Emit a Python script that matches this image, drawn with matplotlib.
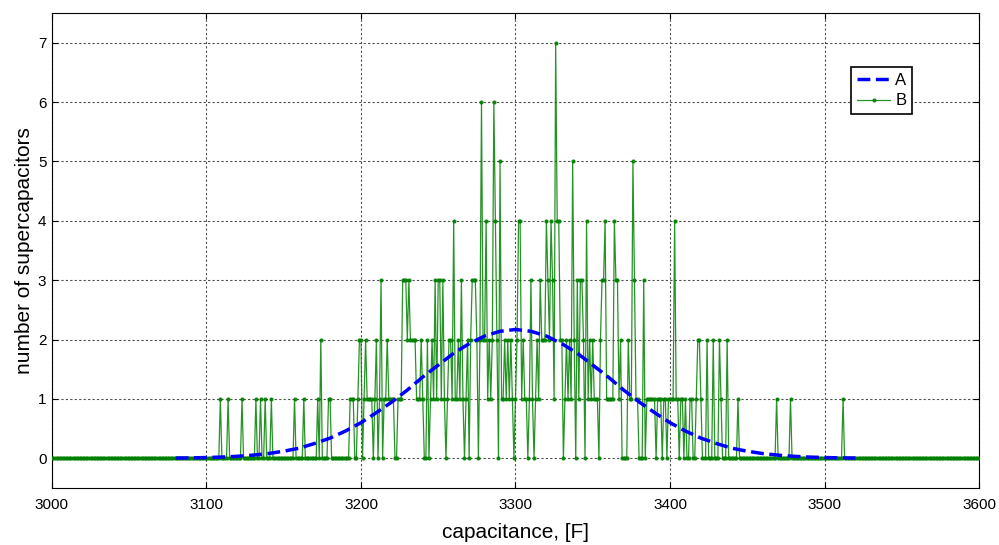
import numpy as np
import matplotlib
matplotlib.use('Agg')
import matplotlib.pyplot as plt

plt.rcParams['font.family'] = ['Liberation Sans', 'DejaVu Sans']

# measured capacitance values [F] that occur, and how many units have them
cap = [3109, 3114, 3123, 3132, 3135, 3138, 3142, 3157, 3163, 3172, 3174, 3179, 3180,
       3193, 3194, 3195, 3198, 3199, 3200, 3202, 3203, 3204, 3205, 3206, 3207, 3209,
       3210, 3212, 3213, 3215, 3216, 3217, 3218, 3219, 3220, 3221, 3224, 3225, 3226,
       3227, 3228, 3229, 3230, 3231, 3232, 3233, 3234, 3235, 3236, 3237, 3238, 3239,
       3240, 3243, 3245, 3246, 3247, 3248, 3249, 3250, 3251, 3252, 3253, 3254, 3256,
       3257, 3258, 3259, 3260, 3261, 3262, 3263, 3264, 3265, 3266, 3268, 3269, 3271,
       3272, 3273, 3274, 3275, 3277, 3278, 3279, 3280, 3281, 3282, 3283, 3284, 3285,
       3286, 3287, 3288, 3290, 3291, 3292, 3293, 3294, 3295, 3296, 3297, 3298, 3300,
       3301, 3302, 3303, 3304, 3305, 3306, 3307, 3309, 3310, 3311, 3313, 3314, 3315,
       3316, 3317, 3318, 3319, 3320, 3321, 3322, 3323, 3324, 3325, 3326, 3327, 3328,
       3329, 3330, 3332, 3333, 3334, 3335, 3336, 3337, 3338, 3340, 3341, 3342, 3343,
       3344, 3346, 3347, 3348, 3349, 3350, 3351, 3352, 3353, 3355, 3356, 3357, 3358,
       3359, 3360, 3361, 3362, 3363, 3364, 3365, 3366, 3367, 3368, 3373, 3374, 3375,
       3376, 3377, 3378, 3379, 3383, 3385, 3386, 3387, 3388, 3389, 3390, 3392, 3393,
       3394, 3396, 3397, 3399, 3400, 3401, 3402, 3403, 3404, 3405, 3407, 3408, 3410,
       3413, 3414, 3417, 3418, 3419, 3420, 3424, 3428, 3432, 3433, 3437, 3444, 3469,
       3478, 3512]
cnt = [1, 1, 1, 1, 1, 1, 1, 1, 1, 1, 2, 1, 1,
       1, 1, 1, 1, 2, 2, 1, 2, 1, 1, 1, 1, 1,
       2, 1, 3, 1, 1, 2, 1, 1, 1, 1, 1, 1, 1,
       3, 3, 3, 2, 3, 2, 2, 2, 2, 1, 1, 1, 2,
       1, 2, 1, 2, 1, 3, 1, 3, 3, 1, 3, 1, 1,
       2, 2, 1, 4, 1, 1, 2, 1, 3, 1, 1, 2, 2,
       3, 3, 3, 2, 2, 6, 2, 2, 4, 1, 2, 1, 2,
       6, 4, 2, 5, 1, 1, 2, 1, 2, 1, 2, 1, 1,
       2, 4, 4, 1, 2, 1, 1, 1, 3, 1, 1, 2, 1,
       3, 2, 2, 2, 4, 3, 2, 4, 3, 1, 7, 4, 4,
       2, 2, 1, 2, 1, 2, 1, 5, 2, 3, 1, 3, 3,
       2, 4, 1, 2, 1, 2, 1, 1, 1, 2, 3, 3, 4,
       1, 1, 1, 1, 1, 4, 3, 3, 1, 2, 2, 1, 1,
       5, 3, 1, 1, 3, 1, 1, 1, 1, 1, 1, 1, 1,
       1, 1, 1, 1, 1, 1, 1, 4, 1, 1, 1, 1, 1,
       1, 1, 1, 2, 2, 1, 2, 2, 2, 1, 2, 1, 1,
       1, 1]

# fitted distribution (every 10 F)
fit_x = list(range(3080, 3530, 10))
fit_y = [0.004, 0.007, 0.013, 0.021, 0.034, 0.053, 0.08, 0.12, 0.17, 0.25, 0.34,
         0.46, 0.60, 0.77, 0.95, 1.15, 1.37, 1.57, 1.77, 1.93, 2.06, 2.14, 2.17,
         2.14, 2.06, 1.93, 1.77, 1.57, 1.37, 1.15, 0.95, 0.77, 0.60, 0.46, 0.34,
         0.25, 0.17, 0.12, 0.08, 0.053, 0.034, 0.021, 0.013, 0.007, 0.004]

# histogram over every integer capacitance 3000..3600
x = np.arange(3000, 3601)
n = np.zeros(len(x))
for c, k in zip(cap, cnt):
    n[c - 3000] = k

fig = plt.figure(figsize=(9.99, 5.45), dpi=100)
ax = fig.add_axes([0.052, 0.1046, 0.928, 0.8714])

ax.plot(fit_x, fit_y, '--', color=(0, 0, 1), lw=2.5, label='A', zorder=4)
ax.plot(x, n, '-', color=(0, 0.5, 0), lw=0.9, marker='.', markersize=4,
        alpha=0.85, label='B', zorder=3)

ax.set_xlim(3000, 3600)
ax.set_ylim(-0.5, 7.5)
ax.set_xticks(range(3000, 3601, 100))
ax.set_yticks(range(0, 8))
ax.grid(True, linestyle=(0, (2, 2)), color='0.3', lw=0.8)
ax.tick_params(direction='in', top=True, right=True, labelsize=11, length=4)
ax.tick_params(axis='x', pad=7)
ax.tick_params(axis='y', pad=4)
for s in ax.spines.values():
    s.set_linewidth(0.8)

ax.set_xlabel('capacitance, [F]', fontsize=15, labelpad=8)
ax.set_ylabel('number of supercapacitors', fontsize=15, labelpad=3)

leg = ax.legend(loc='lower left', bbox_to_anchor=(0.862, 0.787), fancybox=False,
                framealpha=1, edgecolor='k', fontsize=12, handlelength=2.0,
                handletextpad=0.3, borderpad=0.35, labelspacing=0.35,
                borderaxespad=0)
leg.get_frame().set_linewidth(1.2)

plt.savefig('out.png', dpi=100)
